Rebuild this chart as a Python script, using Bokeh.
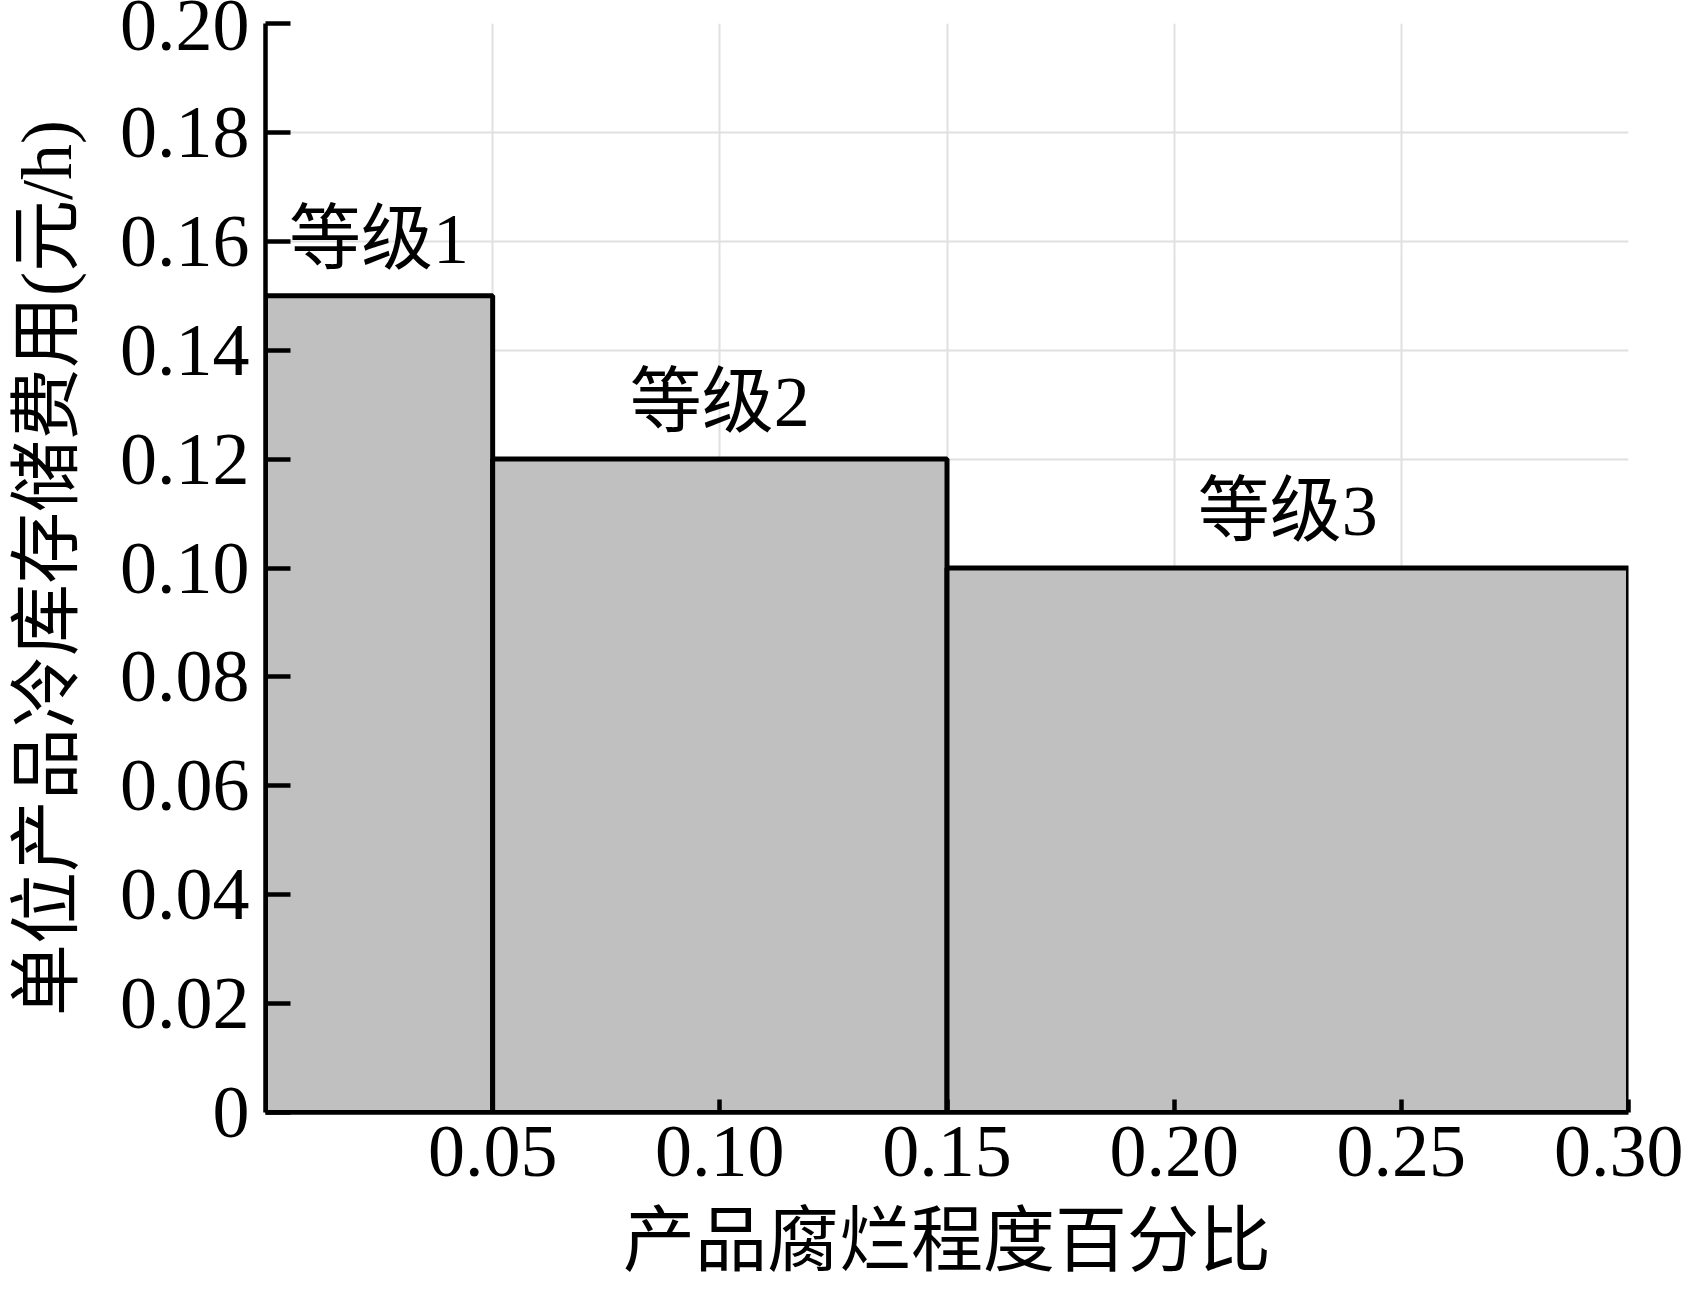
from bokeh.plotting import figure
from bokeh.models import Range1d, FixedTicker, NumeralTickFormatter, ColumnDataSource
from bokeh.core.properties import value
from bokeh.embed import file_html
from bokeh.resources import INLINE

# data
edges = [0.0, 0.05, 0.15, 0.30]
costs = [0.15, 0.12, 0.10]
grades = ["等级1", "等级2", "等级3"]
x_ticks = [0.05, 0.10, 0.15, 0.20, 0.25, 0.30]
y_ticks = [0.0, 0.02, 0.04, 0.06, 0.08, 0.10, 0.12, 0.14, 0.16, 0.18, 0.20]
x_title = "产品腐烂程度百分比"
y_title = "单位产品冷库存储费用(元/h)"

FONT = "Liberation Serif, Noto Sans CJK SC"

W, H = 1683, 1284
p = figure(width=W, height=H, output_backend="svg", toolbar_location=None,
           x_range=Range1d(0, 0.30), y_range=Range1d(0, 0.20),
           min_border_left=265, min_border_right=55, min_border_top=23, min_border_bottom=172)
p.outline_line_color = None
p.background_fill_color = "white"
p.border_fill_color = "white"

src = ColumnDataSource(dict(left=edges[:-1], right=edges[1:], top=costs,
                            bottom=[0] * len(costs)))
p.quad(left="left", right="right", top="top", bottom="bottom", source=src,
       fill_color="#c0c0c0", line_color="black", line_width=5)

lab = ColumnDataSource(dict(
    x=[(a + b) / 2 for a, b in zip(edges[:-1], edges[1:])],
    y=[c + 0.0105 for c in costs],
    t=grades))
p.text(x="x", y="y", text="t", source=lab, text_font=value(FONT),
       text_font_size="72px", text_align="center", text_baseline="middle",
       text_color="black")

# axes
for ax in (p.xaxis[0], p.yaxis[0]):
    ax.axis_line_width = 4.5
    ax.axis_line_color = "black"
    ax.major_tick_line_width = 4.5
    ax.major_tick_line_color = "black"
    ax.minor_tick_line_color = None
    ax.major_tick_out = 0
    ax.major_label_text_font = FONT
    ax.major_label_text_font_size = "74px"
    ax.major_label_text_color = "black"
    ax.axis_label_text_font = FONT
    ax.axis_label_text_font_size = "72px"
    ax.axis_label_text_font_style = "normal"
    ax.axis_label_text_color = "black"

p.xaxis.ticker = FixedTicker(ticks=x_ticks)
p.xaxis.formatter = NumeralTickFormatter(format="0.00")
p.xaxis.major_tick_in = 13
p.xaxis.major_label_standoff = 14
p.xaxis.axis_label = x_title
p.xaxis.axis_label_standoff = 22

p.yaxis.ticker = FixedTicker(ticks=y_ticks)
p.yaxis.formatter = NumeralTickFormatter(format="0.00")
p.yaxis.major_label_overrides = {0: "0"}
p.yaxis.major_tick_in = 25
p.yaxis.major_label_standoff = 16
p.yaxis.axis_label = y_title
p.yaxis.axis_label_standoff = 30

p.xgrid.ticker = FixedTicker(ticks=x_ticks[:-1])
p.ygrid.ticker = FixedTicker(ticks=y_ticks[1:-1])
p.grid.grid_line_color = "#e0e0e0"
p.grid.grid_line_width = 2

open("out.html", "w").write(file_html(p, INLINE))
